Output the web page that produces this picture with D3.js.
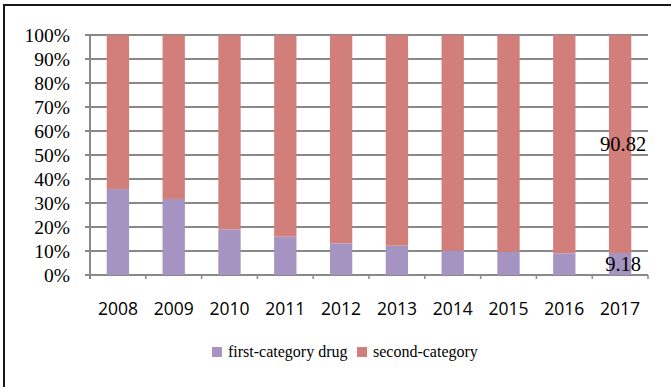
<!DOCTYPE html>
<html>
<head>
<meta charset="utf-8">
<script src="https://cdn.jsdelivr.net/npm/d3@7"></script>
</head>
<body style="margin:0">
<script>
// values (percent)
let years = ["2008", "2009", "2010", "2011", "2012", "2013", "2014", "2015", "2016", "2017"];
let firstCategory = [35.8, 31.7, 19.0, 16.0, 13.2, 12.2, 10.1, 9.7, 9.0, 9.18];
let secondCategory = firstCategory.map(v => +(100 - v).toFixed(2));
let yTicks = [0, 10, 20, 30, 40, 50, 60, 70, 80, 90, 100];
let seriesNames = ["first-category drug", "second-category"];
let seriesColors = ["#a593c2", "#d27f7b"];
// only the last year carries value labels in the picture
let labelledYears = ["2017"];

let SERIF = "'Liberation Serif'";
let SANS = "'Open Sans'";

let width = 671, height = 387;
let margin = {top: 35, right: 23, bottom: 112, left: 90};
let plotW = width - margin.left - margin.right;
let plotH = height - margin.top - margin.bottom;

let svg = d3.select("body").append("svg")
    .attr("width", width)
    .attr("height", height);

// outer frame (runs off the right and bottom of the picture)
svg.append("rect")
    .attr("x", 4).attr("y", 5)
    .attr("width", 700).attr("height", 420)
    .attr("fill", "none")
    .attr("stroke", "#1a1a1a")
    .attr("stroke-width", 2);

let g = svg.append("g")
    .attr("transform", "translate(" + margin.left + "," + margin.top + ")");

let x = d3.scaleBand()
    .domain(years)
    .range([0, plotW])
    .paddingInner(0.6)
    .paddingOuter(0.3);

let y = d3.scaleLinear()
    .domain([0, 100])
    .range([plotH, 0]);

// gridlines + y ticks
g.selectAll(".grid")
  .data(yTicks).enter().append("line")
    .attr("class", "grid")
    .attr("x1", -5).attr("x2", plotW)
    .attr("y1", d => y(d)).attr("y2", d => y(d))
    .attr("stroke", "#898989")
    .attr("stroke-width", 2);

g.selectAll(".ylab")
  .data(yTicks).enter().append("text")
    .attr("class", "ylab")
    .attr("x", -20)
    .attr("y", d => y(d) + 6.5)
    .attr("text-anchor", "end")
    .attr("font-family", SERIF)
    .attr("font-size", 19.5)
    .text(d => d + "%");

// y axis line
g.append("line")
    .attr("x1", 0).attr("x2", 0)
    .attr("y1", 0).attr("y2", plotH + 4)
    .attr("stroke", "#898989")
    .attr("stroke-width", 2);

// x axis ticks at category boundaries
let step = x.step();
let bounds = years.map((d, i) => x(d) - step * 0.3).concat([plotW]);
g.selectAll(".xtick")
  .data(bounds).enter().append("line")
    .attr("class", "xtick")
    .attr("x1", d => d).attr("x2", d => d)
    .attr("y1", plotH).attr("y2", plotH + 4)
    .attr("stroke", "#898989")
    .attr("stroke-width", 1.5);

// stacked bars
let stackData = years.map((d, i) => ({year: d, first: firstCategory[i], second: secondCategory[i]}));
let stack = d3.stack().keys(["first", "second"])(stackData);

g.selectAll(".series")
  .data(stack).enter().append("g")
    .attr("fill", (d, i) => seriesColors[i])
  .selectAll("rect")
  .data(d => d).enter().append("rect")
    .attr("x", d => x(d.data.year))
    .attr("y", d => y(d[1]))
    .attr("width", x.bandwidth())
    .attr("height", d => y(d[0]) - y(d[1]));

// value labels
stack.forEach(function(s) {
  s.filter(d => labelledYears.includes(d.data.year)).forEach(function(d) {
    g.append("text")
      .attr("x", x(d.data.year) + x.bandwidth() / 2 + 3)
      .attr("y", y((d[0] + d[1]) / 2) + 7)
      .attr("text-anchor", "middle")
      .attr("font-family", SERIF)
      .attr("font-size", 20.5)
      .text(d.data[s.key]);
  });
});

// year labels
g.selectAll(".xlab")
  .data(years).enter().append("text")
    .attr("class", "xlab")
    .attr("x", d => x(d) + x.bandwidth() / 2)
    .attr("y", plotH + 40)
    .attr("text-anchor", "middle")
    .attr("font-family", SANS)
    .attr("font-size", 17.5)
    .text(d => d);

// legend
let legendX = [212, 357];
let legend = svg.selectAll(".legend")
  .data(seriesNames).enter().append("g")
    .attr("class", "legend")
    .attr("transform", (d, i) => "translate(" + legendX[i] + ",347)");

legend.append("rect")
    .attr("width", 10).attr("height", 10)
    .attr("fill", (d, i) => seriesColors[i]);

legend.append("text")
    .attr("x", 16).attr("y", 10)
    .attr("font-family", SERIF)
    .attr("font-size", 16)
    .text(d => d);
</script>
</body>
</html>
